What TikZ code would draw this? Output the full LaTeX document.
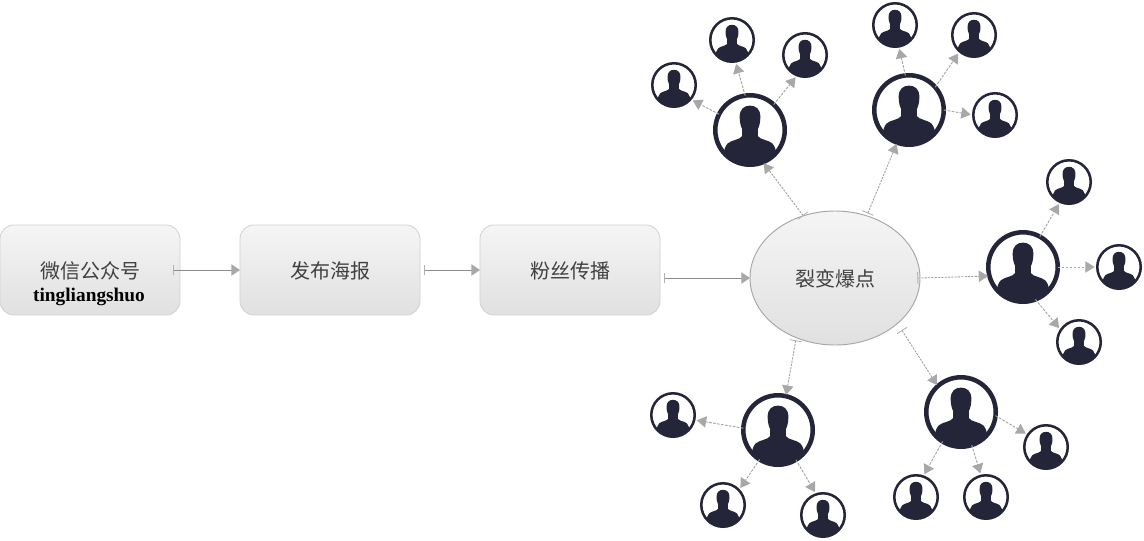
\documentclass[tikz,border=0pt]{standalone}
\usepackage{fontspec}
\setmainfont{Liberation Serif}
\newfontfamily\cjk{Noto Sans CJK SC}
\usetikzlibrary{arrows.meta,shapes.geometric}
\definecolor{ink}{HTML}{25253A}
\definecolor{linkgray}{HTML}{A8A8A8}
\definecolor{txt}{HTML}{404040}
\tikzset{
  flowbox/.style={rectangle,rounded corners=10.5pt,draw=black!18,line width=.6pt,top color=black!4,bottom color=black!12,minimum width=135pt,minimum height=67.5pt,outer sep=0pt,inner sep=0pt},
  boxtext/.style={text=txt,font=\cjk\fontsize{15}{18}\selectfont,inner sep=0pt},
  subtext/.style={text=black,font=\fontsize{14.5}{16}\selectfont\bfseries,inner sep=0pt},
  burst/.style={ellipse,draw=black!35,line width=.7pt,top color=black!4,bottom color=black!12,minimum width=127.5pt,minimum height=100.5pt,outer sep=0pt,inner sep=0pt},
  bigperson/.style={circle,draw=ink,line width=3.4pt,minimum size=52.1pt,inner sep=0pt,outer sep=0pt},
  smallperson/.style={circle,draw=ink,line width=1.9pt,minimum size=32.6pt,inner sep=0pt,outer sep=0pt},
  solidlink/.style={draw=black!45,line width=.75pt,{Bar[width=8pt,length=.6pt,black!30]}-{Triangle[width=8.5pt,length=6.5pt,linkgray]}},
  dashlink/.style={draw=black!38,line width=.65pt,dash pattern=on 1.6pt off .9pt,{Bar[width=9pt,length=.6pt,black!30]}-{Triangle[width=8.5pt,length=7pt,linkgray]}},
  leaflink/.style={draw=black!35,line width=.7pt,dash pattern=on 2pt off 1pt,-{Triangle[width=8.5pt,length=7pt,linkgray]}},
}
\newcommand\silh[2]{%
  \begin{scope}[shift={(#1.center)},x=#2*.75pt,y=#2*.75pt]
    \clip (0,0) circle[radius=.95];
    \fill[ink] (-.28,.36) .. controls (-.28,.56) and (-.16,.66) .. (0,.66)
      .. controls (.16,.66) and (.28,.56) .. (.28,.36)
      .. controls (.28,.2) and (.25,.1) .. (.21,.02)
      -- (.21,-.16) .. controls (.26,-.26) and (.5,-.27) .. (.6,-.36)
      .. controls (.68,-.44) and (.7,-.55) .. (.72,-.7)
      -- (.8,-1) -- (-.8,-1) -- (-.72,-.7)
      .. controls (-.7,-.55) and (-.68,-.44) .. (-.6,-.36)
      .. controls (-.5,-.27) and (-.26,-.26) .. (-.21,-.16)
      -- (-.21,.02) .. controls (-.25,.1) and (-.28,.2) .. (-.28,.36) -- cycle;
  \end{scope}}
\newcommand\bigp[3]{\node[bigperson] (#1) at (#2,#3) {};\silh{#1}{37}}
\newcommand\smallp[3]{\node[smallperson] (#1) at (#2,#3) {};\silh{#1}{23}}
\begin{document}
\begin{tikzpicture}[x=.75pt,y=-.75pt]
\useasboundingbox (0,0) rectangle (1144,540);
\fill[white] (0,0) rectangle (1144,540);
\node[flowbox] (wx) at (90,270) {};
\node[flowbox] (post) at (330,270) {};
\node[flowbox] (fans) at (570,270) {};
\node[burst] (ell) at (835,278) {};
\node[boxtext] (wxtitle) at (90,271) {微信公众号};
\node[subtext] (wxsub) at (89,297) {tingliangshuo};
\node[boxtext] (posttitle) at (330,271) {发布海报};
\node[boxtext] (fanstitle) at (570,271) {粉丝传播};
\node[boxtext] (elltitle) at (835,279) {裂变爆点};
\coordinate (fansout) at (660,278);

\bigp{A}{750}{130}
\bigp{B}{909}{110}
\bigp{C}{1023}{267}
\bigp{D}{961}{412}
\bigp{E}{778}{430}
\smallp{aa}{674}{85}
\smallp{ab}{732}{40}
\smallp{ac}{805}{55}
\smallp{ba}{895}{25}
\smallp{bb}{974}{35}
\smallp{bc}{995}{115}
\smallp{ca}{1069}{182}
\smallp{cb}{1119}{267}
\smallp{cc}{1079}{342}
\smallp{da}{1046}{447}
\smallp{db}{986}{497}
\smallp{dc}{916}{497}
\smallp{ea}{673}{415}
\smallp{eb}{723}{505}
\smallp{ec}{823}{515}

\draw[solidlink,shorten <=-5pt] (wx.east) -- (post.west);
\draw[solidlink,shorten <=3pt] (post.east) -- (fans.west);
\draw[solidlink,shorten <=3pt] (fansout) -- (ell.west);

\draw[dashlink,shorten >=1pt] (ell.117) -- (A.-68);
\draw[dashlink,shorten <=2pt,shorten >=1pt] (ell.63) -- (B.250);
\draw[dashlink,shorten <=-2pt,shorten >=1pt] (ell.0) -- (C.195);
\draw[dashlink,shorten <=6pt,shorten >=1pt] (ell.-36) -- (D.132);
\draw[dashlink,shorten <=2pt,shorten >=1pt] (ell.237) -- (E.77);

\draw[leaflink,shorten >=2pt] (A.153) -- (aa.-41);
\draw[leaflink,shorten >=2pt] (A.98) -- (ab.-81);
\draw[leaflink,shorten >=2pt] (A.47) -- (ac.-111);
\draw[leaflink,shorten >=2pt] (B.96) -- (ba.-80);
\draw[leaflink,shorten >=2pt] (B.41) -- (bb.-131);
\draw[leaflink,shorten >=2pt] (B.0) -- (bc.180);
\draw[leaflink,shorten >=2pt] (C.61) -- (ca.-114);
\draw[leaflink,shorten >=2pt] (C.0) -- (cb.180);
\draw[leaflink,shorten >=2pt] (C.-69) -- (cc.147);
\draw[leaflink,shorten >=2pt] (D.-6) -- (da.146);
\draw[leaflink,shorten >=2pt] (D.-72) -- (db.103);
\draw[leaflink,shorten >=2pt] (D.-122) -- (dc.71);
\draw[leaflink,shorten >=2pt] (E.177) -- (ea.-13);
\draw[leaflink,shorten >=2pt] (E.-122) -- (eb.43);
\draw[leaflink,shorten >=2pt] (E.-59) -- (ec.108);
\end{tikzpicture}
\end{document}
